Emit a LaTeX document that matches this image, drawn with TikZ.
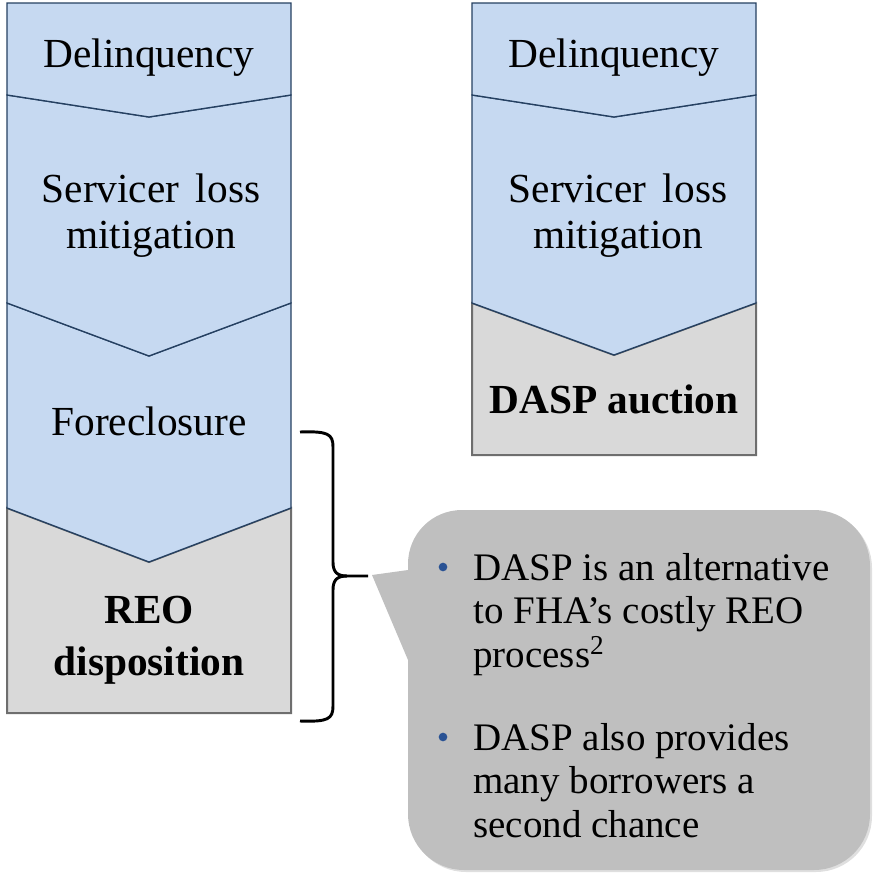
\documentclass[tikz,border=0pt]{standalone}
\usepackage{fontspec}
\setmainfont{Liberation Serif}
\usetikzlibrary{shadows}
\definecolor{bluefill}{RGB}{198,217,241}
\definecolor{blueline}{RGB}{37,64,97}
\definecolor{greyfill}{RGB}{217,217,217}
\definecolor{greyline}{RGB}{110,110,110}
\definecolor{callfill}{RGB}{191,191,191}
\definecolor{bulletblue}{RGB}{41,82,148}
\begin{document}
\begin{tikzpicture}[x=0.75pt,y=-0.75pt,
  bluestep/.style={fill=bluefill,draw=blueline,line width=1pt,line join=miter},
  greystep/.style={fill=greyfill,draw=greyline,line width=1.5pt},
  lbl/.style={font=\fontsize{31}{34.5}\selectfont,align=center,inner sep=0pt,anchor=base},
  blbl/.style={lbl,font=\bfseries\fontsize{31}{39}\selectfont},
  calltext/.style={font=\fontsize{29.25}{32.6}\selectfont,align=left,inner sep=0pt,anchor=base west},
  bulletdot/.style={circle,fill=bulletblue,inner sep=0pt,minimum size=6.5pt},
  bracestyle/.style={draw=black,line width=2.2pt,line cap=butt,line join=round}
]
\useasboundingbox (0,0) rectangle (874,875);

% left column
\path[greystep] (7,508) -- (149,562) -- (291,508) -- (291,713) -- (7,713) -- cycle;
\path[bluestep] (7,303) -- (149,356) -- (291,303) -- (291,508) -- (149,562) -- (7,508) -- cycle;
\path[bluestep] (7,95) -- (149,117) -- (291,95) -- (291,303) -- (149,356) -- (7,303) -- cycle;
\path[bluestep] (7,3) -- (291,3) -- (291,95) -- (149,117) -- (7,95) -- cycle;

\node[lbl] (l1) at (149,67) {Delinquency};
\node[lbl] (l2) at (151,248) {Servicer\hspace{0.4em}loss\\mitigation};
\node[lbl] (l3) at (149,435) {Foreclosure};
\node[blbl] (l4) at (149,675) {REO\\disposition};

% right column
\path[greystep] (472,303) -- (614,355) -- (756,303) -- (756,455) -- (472,455) -- cycle;
\path[bluestep] (472,95) -- (614,117) -- (756,95) -- (756,303) -- (614,355) -- (472,303) -- cycle;
\path[bluestep] (472,3) -- (756,3) -- (756,95) -- (614,117) -- (472,95) -- cycle;

\node[lbl] (r1) at (614,67) {Delinquency};
\node[lbl] (r2) at (618,248) {Servicer\hspace{0.4em}loss\\mitigation};
\node[blbl] (r3) at (614,413) {DASP auction};

% callout
\path[fill=callfill,drop shadow={shadow xshift=1.5pt,shadow yshift=-1.5pt,opacity=0.25}]
  (408,570) -- (372,575) -- (408,660) -- (408,814)
  .. controls (408,845) and (433,870) .. (464,870) -- (814,870)
  .. controls (845,870) and (870,845) .. (870,814) -- (870,566)
  .. controls (870,535) and (845,510) .. (814,510) -- (462,510)
  .. controls (432,510) and (408,534) .. (408,564) -- cycle;

\node[bulletdot] (d1) at (443,567) {};
\node[calltext] (t1) at (473,667) {DASP is an alternative\\to FHA’s costly REO\\process\textsuperscript{2}};
\node[bulletdot] (d2) at (443,737) {};
\node[calltext] (t2) at (473,837) {DASP also provides\\many borrowers a\\second chance};

% brace
\coordinate (brtop) at (300,432);
\coordinate (brbot) at (300,721);
\coordinate (brtip) at (368,576);
\draw[bracestyle] (brtop) .. controls (328,431) and (333,434) .. (333,447) -- (333,562)
  .. controls (333,572) and (337,576) .. (347,576) -- (brtip);
\draw[bracestyle] (347,576) .. controls (337,576) and (333,580) .. (333,590) -- (333,706)
  .. controls (333,719) and (328,722) .. (brbot);
\end{tikzpicture}
\end{document}
